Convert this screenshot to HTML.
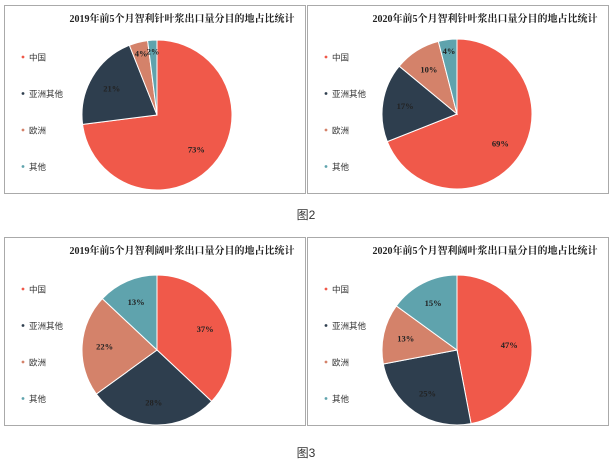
<!DOCTYPE html>
<html><head><meta charset="utf-8"><style>
body{margin:0;background:#fff;width:612px;height:462px;overflow:hidden}
svg{display:block}
</style></head><body>
<svg id="s" width="612" height="462" xmlns="http://www.w3.org/2000/svg" font-family="Liberation Serif, 'Noto Serif CJK SC', serif">
<rect x="4.5" y="5.5" width="301" height="188" fill="#fff" stroke="#aaa"/>
<rect x="307.5" y="5.5" width="301" height="188" fill="#fff" stroke="#aaa"/>
<rect x="4.5" y="237.5" width="301" height="188" fill="#fff" stroke="#aaa"/>
<rect x="307.5" y="237.5" width="301" height="188" fill="#fff" stroke="#aaa"/>
<text x="306" y="219" font-size="12" text-anchor="middle" fill="#333" font-family="Liberation Sans, 'Noto Sans CJK SC', sans-serif">图2</text>
<text x="306" y="457" font-size="12" text-anchor="middle" fill="#333" font-family="Liberation Sans, 'Noto Sans CJK SC', sans-serif">图3</text>
</svg>
<script>
var s=document.getElementById('s'),NS='http://www.w3.org/2000/svg';
var C=['#f0594a','#2e3e4e','#d4826a','#5fa3ad'],L=['中国','亚洲其他','欧洲','其他'];
function el(t,a,txt){var e=document.createElementNS(NS,t);for(var k in a)e.setAttribute(k,a[k]);if(txt)e.textContent=txt;s.appendChild(e);return e;}
var charts=[
 {px:4,py:5,cx:157,cy:115,t:'2019年前5个月智利针叶浆出口量分目的地占比统计',v:[73,21,4,2]},
 {px:307,py:5,cx:457,cy:114,t:'2020年前5个月智利针叶浆出口量分目的地占比统计',v:[69,17,10,4]},
 {px:4,py:237,cx:157,cy:350,t:'2019年前5个月智利阔叶浆出口量分目的地占比统计',v:[37,28,22,13]},
 {px:307,py:237,cx:457,cy:350,t:'2020年前5个月智利阔叶浆出口量分目的地占比统计',v:[47,25,13,15]}];
charts.forEach(function(c){
 el('text',{x:c.px+178,y:c.py+17,'font-size':10,'font-weight':'bold','text-anchor':'middle',fill:'#222'},c.t);
 var r=75,a=0,tot=c.v.reduce(function(x,y){return x+y},0);
 c.v.forEach(function(v,i){
  var a0=a,a1=a+v/tot*2*Math.PI;a=a1;
  var x0=c.cx+r*Math.sin(a0),y0=c.cy-r*Math.cos(a0),x1=c.cx+r*Math.sin(a1),y1=c.cy-r*Math.cos(a1);
  el('path',{d:'M'+c.cx+','+c.cy+'L'+x0+','+y0+'A'+r+','+r+' 0 '+((a1-a0)>Math.PI?1:0)+' 1 '+x1+','+y1+'Z',fill:C[i],stroke:'#fff','stroke-width':1});
  var m=(a0+a1)/2,lr=v<6?r*0.85:r*0.7;
  el('text',{x:c.cx+lr*Math.sin(m),y:c.cy-lr*Math.cos(m)+3,'font-size':8.5,'font-weight':'bold','text-anchor':'middle',fill:'#222'},v+'%');
  el('circle',{cx:c.px+19,cy:c.py+52+i*36.5,r:1.4,fill:C[i]});
  el('text',{x:c.px+25,y:c.py+55.5+i*36.5,'font-size':8.5,fill:'#333','font-family':"Liberation Sans, 'Noto Sans CJK SC', sans-serif"},L[i]);
 });
});
</script>
</body></html>
